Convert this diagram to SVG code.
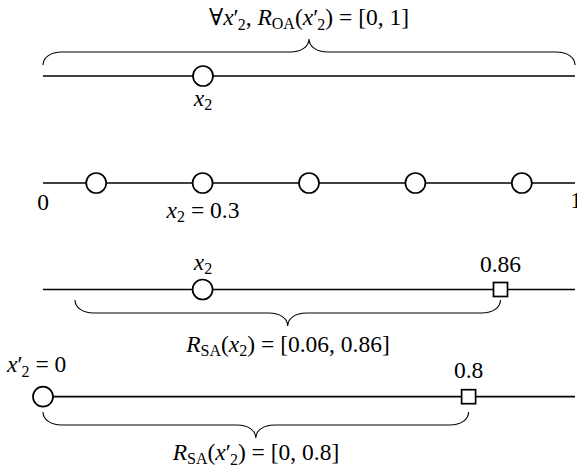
<svg xmlns="http://www.w3.org/2000/svg" width="577" height="473" viewBox="0 0 577 473">
<style>
.axis{stroke:#000;stroke-width:1.7;fill:none}
.brace{stroke:#000;stroke-width:1.1;fill:none}
.pt{stroke:#000;stroke-width:1.7;fill:#fff}
text{font-family:"Liberation Serif","DejaVu Serif","Times New Roman",serif;font-size:23.5px;fill:#000}
.i{font-style:italic}
.s{font-size:16px;font-style:normal}
</style>
<rect width="577" height="473" fill="#fff"/>
<g id="connectors">
<line class="axis" x1="43" y1="76" x2="575" y2="76"/>
<line class="axis" x1="43" y1="183" x2="575" y2="183"/>
<line class="axis" x1="43" y1="289.5" x2="575" y2="289.5"/>
<line class="axis" x1="43" y1="396.7" x2="575" y2="396.7"/>
<path class="brace" d="M43,65 C43,58 50,52 62,52 L290,52 C302,52 309,46 309,39 C309,46 316,52 328,52 L556,52 C568,52 575,58 575,65"/>
<path class="brace" d="M75,300 C75,307 82,313 94,313 L268.7,313 C280.7,313 287.7,319 287.7,326 C287.7,319 294.7,313 306.7,313 L481.5,313 C493.5,313 500.5,307 500.5,300"/>
<path class="brace" d="M43,412 C43,419 50,425 62,425 L236.8,425 C248.8,425 255.8,431 255.8,438 C255.8,431 262.8,425 274.8,425 L449.6,425 C461.6,425 468.6,419 468.6,412"/>
</g>
<g id="row1">
<circle id="n1" class="pt" cx="203" cy="76" r="10"/>
<text x="309" y="25" text-anchor="middle">∀<tspan class="i">x</tspan>′<tspan class="s" dx="-1" dy="5">2</tspan><tspan dy="-5">, </tspan><tspan class="i">R</tspan><tspan class="s" dy="4">OA</tspan><tspan dy="-4">(</tspan><tspan class="i">x</tspan>′<tspan class="s" dx="-1" dy="5">2</tspan><tspan dy="-5">) = [0, 1]</tspan></text>
<text x="203" y="106" text-anchor="middle"><tspan class="i">x</tspan><tspan class="s" dy="4">2</tspan></text>
</g>
<g id="row2">
<circle id="n2a" class="pt" cx="96.2" cy="183" r="10"/>
<circle id="n2b" class="pt" cx="202.6" cy="183" r="10"/>
<circle id="n2c" class="pt" cx="309" cy="183" r="10"/>
<circle id="n2d" class="pt" cx="415.4" cy="183" r="10"/>
<circle id="n2e" class="pt" cx="521.8" cy="183" r="10"/>
<text x="43" y="210" text-anchor="middle">0</text>
<text x="576" y="208" text-anchor="middle">1</text>
<text x="203" y="218" text-anchor="middle"><tspan class="i">x</tspan><tspan class="s" dy="4">2</tspan><tspan dy="-4"> = 0.3</tspan></text>
</g>
<g id="row3">
<circle id="n3" class="pt" cx="202.6" cy="289.5" r="10"/>
<rect id="n3s" class="pt" x="493.5" y="282.5" width="14" height="14"/>
<text x="203" y="270" text-anchor="middle"><tspan class="i">x</tspan><tspan class="s" dy="4">2</tspan></text>
<text x="500.5" y="272" text-anchor="middle">0.86</text>
<text x="288" y="352" text-anchor="middle"><tspan class="i">R</tspan><tspan class="s" dy="4">SA</tspan><tspan dy="-4">(</tspan><tspan class="i">x</tspan><tspan class="s" dy="4">2</tspan><tspan dy="-4">) = [0.06, 0.86]</tspan></text>
</g>
<g id="row4">
<circle id="n4" class="pt" cx="43" cy="396.7" r="10"/>
<rect id="n4s" class="pt" x="461.6" y="389.7" width="14" height="14"/>
<text x="7" y="372"><tspan class="i">x</tspan>′<tspan class="s" dx="-1" dy="5">2</tspan><tspan dy="-5"> = 0</tspan></text>
<text x="468.6" y="378" text-anchor="middle">0.8</text>
<text x="256" y="460" text-anchor="middle"><tspan class="i">R</tspan><tspan class="s" dy="4">SA</tspan><tspan dy="-4">(</tspan><tspan class="i">x</tspan>′<tspan class="s" dx="-1" dy="5">2</tspan><tspan dy="-5">) = [0, 0.8]</tspan></text>
</g>
</svg>
